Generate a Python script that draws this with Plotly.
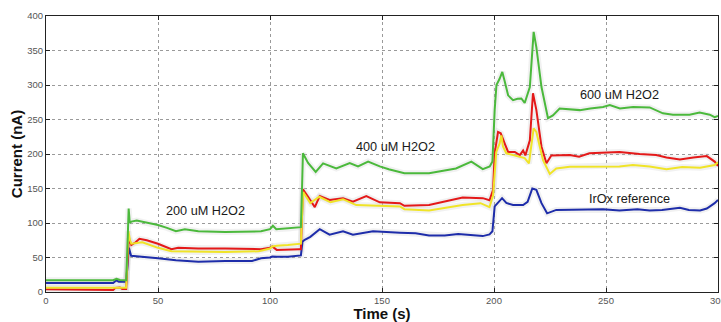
import plotly.graph_objects as go

# ---------------- data ----------------
green_t = [0, 10, 20, 30, 31.5, 33, 35, 35.8, 36.3, 36.9, 37.4, 38.1, 40.5, 44, 50, 54, 58, 62, 68, 80, 96,
           100, 101.3, 102.8, 108, 113, 113.8, 114.3, 114.7, 117, 120.4, 123.7, 129.6, 135.6, 139.3, 143.8,
           149, 153, 160, 171, 183, 189.9, 195, 198.1, 199.3, 200.3, 201.1, 202.5, 203.7, 204.8, 206.3,
           208.5, 210.5, 212.2, 213.7, 216, 217.7, 218.9, 221.2, 224.1, 226.3, 229.3, 238.3, 243, 248.7,
           251.7, 256.2, 262.1, 269.5, 275.4, 279.9, 287.3, 291.8, 296.3, 298.5, 300]
green_v = [17, 17, 17, 17, 19, 17.5, 17, 17, 60, 121, 100, 102, 103.5, 101, 97, 93, 88, 91, 88, 87, 88,
           91, 96, 91, 92, 94, 94, 150, 201, 187, 174, 186.5, 179, 187, 182, 189,
           182, 178, 172, 172, 179, 189, 178, 182, 189, 264, 300, 309, 319, 305, 285,
           278, 280, 280.5, 274, 297, 377, 355, 297, 252, 256, 266, 263.6, 266, 268,
           271, 266, 268, 267.5, 259, 257, 257, 260, 257, 253.5, 255]

red_t = [0, 10, 20, 25, 30, 31, 33, 34, 35.8, 36.3, 37, 38.1, 40, 41.7, 45, 50, 56, 59, 68, 80, 92, 96,
         100, 101, 103, 108, 113, 113.8, 114.3, 114.7, 117, 120, 122.2, 126.6, 132.6, 137, 143, 149, 158,
         160, 171, 186, 195, 198, 199.6, 200.3, 201.8, 203, 204.8, 206.3, 209.3, 211.5, 213, 214, 216,
         217.4, 218.9, 221.2, 223.4, 225.6, 233.8, 238, 242.6, 248.7, 256, 265, 272.4, 277, 283, 289,
         295, 298.5, 300]
red_v = [4, 4, 4, 3, 3, 6, 6.5, 4.5, 4.5, 40, 78, 68, 72, 77, 75, 70, 62, 64, 63, 63, 63, 62,
         64, 66, 61, 62, 62, 62, 100, 149, 138, 123, 139, 133.5, 136, 131, 139, 130, 128.7,
         125, 126, 137, 136, 133, 148, 201, 232, 230, 215, 203, 203, 198.5, 205, 198, 220,
         288, 264, 210.5, 186.5, 198, 198.5, 196, 201, 202, 203, 200, 198.5, 195, 192, 195,
         197, 189, 182.6]

yellow_t = [0, 10, 20, 30, 35.8, 36.3, 36.8, 37.5, 38.1, 43, 50, 56, 68, 80, 95, 100, 101, 103, 108, 113,
            113.8, 114.3, 114.8, 118, 122, 127, 132.6, 138.5, 149, 158, 160, 171, 186, 194, 198, 199.6,
            201, 202.5, 203.3, 204, 205.5, 209.3, 213.7, 215.6, 217.7, 218.9, 221.9, 224.9, 227.8,
            233.8, 248.7, 256, 262, 269.5, 277, 284, 292, 296, 298.5, 300]
yellow_v = [6, 6, 6, 6, 6, 50, 88, 75, 70, 72, 64, 59, 58, 58, 59, 63, 66, 67, 68, 70,
            70, 110, 145, 129, 138, 130, 134.5, 126, 125, 124, 120, 118, 126, 128.7, 123, 140,
            203, 215, 227, 211, 201, 198, 194, 186.5, 237, 232, 191, 171, 179,
            181.6, 182, 182, 184, 182, 178, 181, 180, 182, 184, 188]

blue_t = [0, 10, 20, 30, 31.4, 32.5, 34, 35.8, 36.3, 37, 38, 40, 45, 50, 58, 68, 80, 92, 96, 100, 101,
          103, 108, 113, 113.8, 114.5, 115.5, 118, 122.2, 126.6, 132.6, 137, 146, 158, 165, 171, 178,
          184, 189, 195, 198, 199.3, 200.3, 201.8, 203.6, 205.5, 208.5, 213, 215, 217.1, 218.9, 221.2,
          223.7, 227.8, 236.7, 248.7, 256, 264, 269.5, 275, 283, 287, 292, 295, 298.5, 300]
blue_v = [13, 13, 13, 13, 17, 15, 15, 15, 35, 64, 52.5, 52, 51, 49, 46, 44, 45, 45, 49, 50, 51.5,
          51, 51, 52, 53, 73, 75.6, 80, 91, 83, 88, 83, 88, 86, 85, 82, 82,
          84, 83, 81, 83.5, 88, 124, 130, 136, 129, 126, 126, 130.6, 150, 148, 128.7,
          114, 119, 119, 120, 118, 120, 118, 119, 122, 119, 118, 121, 128.7, 133.5]

label_text = ["200 uM H2O2", "400 uM H2O2", "600 uM H2O2", "IrOx reference"]
label_t = [71.1, 155.9, 255.9, 260.4]
label_v = [117.5, 210.5, 286, 134.5]

x_ticks = [0, 50, 100, 150, 200, 250, 300]
y_ticks = [0, 50, 100, 150, 200, 250, 300, 350, 400]

# ---------------- figure ----------------
series = [
    (blue_t, blue_v, "rgb(30,45,170)"),
    (red_t, red_v, "rgb(228,25,25)"),
    (yellow_t, yellow_v, "rgb(240,228,40)"),
    (green_t, green_v, "rgb(75,185,60)"),
]

fig = go.Figure()
# faint gray halo under the curves
for t, v, c in series:
    fig.add_trace(go.Scatter(x=t, y=v, mode="lines", hoverinfo="skip",
                             line=dict(color="rgba(200,200,200,0.25)", width=6),
                             showlegend=False))
for t, v, c in series:
    fig.add_trace(go.Scatter(x=t, y=v, mode="lines",
                             line=dict(color=c, width=2), showlegend=False))

for txt, t, v in zip(label_text, label_t, label_v):
    fig.add_annotation(x=t, y=v, xref="x", yref="y", text=txt, showarrow=False,
                       font=dict(family="Liberation Sans, Arial", size=12.7, color="#1a1a1a"))

axis_common = dict(
    showgrid=True, gridcolor="#9a9a9a", griddash="dot", gridwidth=1,
    zeroline=False, showline=True, linecolor="#222", linewidth=1, mirror="ticks",
    ticks="inside", ticklen=4, tickcolor="#222", ticklabeloverflow="allow",
    automargin=False,
    tickfont=dict(family="Liberation Sans, Arial", size=9.5, color="#555"),
)

fig.update_xaxes(range=[0, 300], tickvals=x_ticks,
                 title=dict(text="<b>Time (s)</b>", standoff=6,
                            font=dict(family="Liberation Sans, Arial", size=15, color="#111")),
                 **axis_common)
fig.update_yaxes(range=[0, 400], tickvals=y_ticks,
                 title=dict(text="<b>Current (nA)</b>", standoff=0,
                            font=dict(family="Liberation Sans, Arial", size=15, color="#111")),
                 **axis_common)

fig.update_layout(width=721, height=322, margin=dict(l=46, r=3, t=16, b=30),
                  paper_bgcolor="white", plot_bgcolor="white", showlegend=False)

fig.write_html("out.html")
